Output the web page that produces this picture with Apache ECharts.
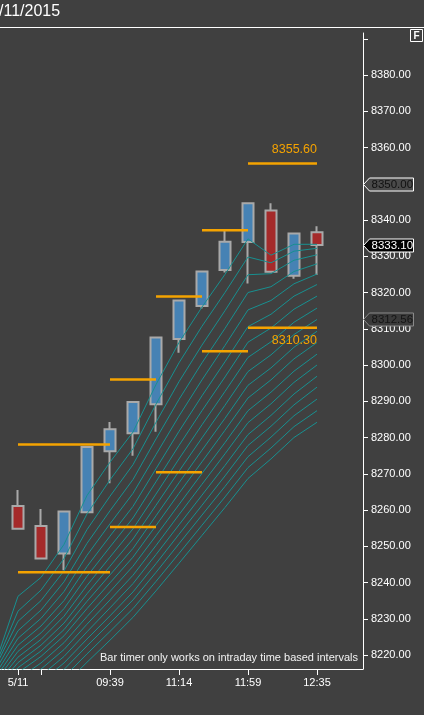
<!DOCTYPE html>
<html>
<head>
<meta charset="utf-8">
<script src="https://cdn.jsdelivr.net/npm/echarts@6/dist/echarts.min.js"></script>
<style>
html,body{margin:0;padding:0;background:#404040;overflow:hidden;}
#chart{width:424px;height:715px;}
</style>
</head>
<body>
<div id="chart"></div>
<script>
// ---- data ----
const barIndex = [0,1,2,3,4,5,6,7,8,9,10,11,12,13];
const opens  = [8261.1,8255.6,8248.0,8259.4,8276.2,8281.2,8289.2,8307.2,8316.3,8326.2,8333.9,8342.6,8324.6,8336.6];
const closes = [8254.8,8246.6,8259.6,8277.4,8282.3,8289.8,8307.6,8317.8,8325.8,8334.0,8344.6,8325.7,8336.3,8333.1];
const lows   = [8254.8,8246.6,8243.4,8259.4,8267.4,8275.0,8281.6,8303.4,8315.6,8325.5,8322.5,8325.7,8323.8,8324.8];
const highs  = [8265.5,8260.3,8259.6,8277.4,8284.3,8289.8,8307.6,8317.8,8325.8,8337.2,8344.6,8344.6,8336.3,8338.3];

const ribbonIndex = [-1,0,1,2,3,4,5,6,7,8,9,10,11,12,13];
const ma3  = [8217.5,8236.2,8241.4,8250.5,8264.0,8273.2,8281.5,8294.6,8306.2,8316.0,8325.0,8334.8,8330.3,8333.3,8333.3];
const ma4  = [8217.0,8232.1,8237.9,8246.6,8258.9,8268.3,8276.9,8289.2,8300.6,8310.7,8320.0,8329.8,8328.2,8331.4,8332.2];
const ma5  = [8216.5,8229.3,8235.0,8243.2,8254.6,8263.8,8272.5,8284.2,8295.4,8305.5,8315.0,8324.9,8325.2,8328.9,8330.4];
const ma6  = [8215.5,8226.7,8232.4,8240.2,8250.8,8259.8,8268.4,8279.6,8290.5,8300.6,8310.1,8320.0,8321.6,8325.8,8327.9];
const ma7  = [8214.5,8224.6,8230.1,8237.5,8247.5,8256.2,8264.6,8275.3,8285.9,8295.9,8305.4,8315.2,8317.8,8322.4,8325.1];
const ma8  = [8213.5,8222.7,8228.0,8235.0,8244.4,8252.8,8261.0,8271.4,8281.7,8291.5,8300.9,8310.6,8314.0,8319.0,8322.2];
const ma9  = [8212.5,8221.0,8226.1,8232.8,8241.7,8249.8,8257.8,8267.8,8277.8,8287.4,8296.7,8306.3,8310.2,8315.4,8319.0];
const ma10 = [8211.5,8219.4,8224.3,8230.7,8239.2,8247.0,8254.8,8264.4,8274.1,8283.5,8292.7,8302.1,8306.4,8311.8,8315.7];
const ma11 = [8210.5,8217.9,8222.7,8228.8,8236.9,8244.5,8252.0,8261.3,8270.7,8279.9,8288.9,8298.2,8302.8,8308.4,8312.56];
const ma12 = [8209.5,8216.5,8221.1,8227.0,8234.8,8242.1,8249.4,8258.4,8267.5,8276.5,8285.3,8294.4,8299.2,8304.9,8309.3];
const ma13 = [8208.5,8215.1,8219.6,8225.3,8232.8,8239.9,8247.0,8255.7,8264.6,8273.3,8282.0,8290.9,8295.9,8301.7,8306.2];
const ma14 = [8207.0,8213.4,8217.8,8223.4,8230.6,8237.5,8244.5,8252.9,8261.5,8270.1,8278.6,8287.4,8292.5,8298.3,8303.0];
const ma15 = [8205.5,8211.7,8216.1,8221.5,8228.5,8235.2,8242.0,8250.2,8258.7,8267.1,8275.5,8284.1,8289.3,8295.2,8300.0];
const ma16 = [8204.0,8210.0,8214.3,8219.6,8226.4,8233.0,8239.7,8247.7,8255.9,8264.1,8272.3,8280.8,8286.1,8292.0,8296.9];
const ma17 = [8202.5,8208.3,8212.6,8217.8,8224.4,8230.8,8237.4,8245.2,8253.3,8261.3,8269.4,8277.8,8283.1,8289.0,8293.9];
const ma18 = [8201.0,8206.7,8210.9,8216.0,8222.5,8228.8,8235.2,8242.8,8250.7,8258.6,8266.5,8274.7,8280.1,8286.0,8290.6];
const ma19 = [8199.0,8204.6,8208.8,8213.9,8220.3,8226.5,8232.8,8240.3,8248.0,8255.8,8263.6,8271.7,8277.1,8283.0,8287.4];
const ma20 = [8197.0,8202.5,8206.7,8211.7,8218.0,8224.1,8230.4,8237.7,8245.3,8253.0,8260.7,8268.7,8274.1,8280.0,8284.2];

const levelFrom  = [0, 4, 6, 8, 10];
const levelTo    = [4, 6, 8, 10, 13];
const levelUpper = [8278.1, 8296.0, 8318.9, 8337.2, 8355.6];
const levelLower = [8242.8, 8255.3, 8270.4, 8303.8, 8310.3];

const xTickIndex  = [0, 1, 4, 7, 10, 13];
const xLabelIndex = [0, 4, 7, 10, 13];
const xLabelText  = ['5/11', '09:39', '11:14', '11:59', '12:35'];
const yTickValues  = [8220,8230,8240,8250,8260,8270,8280,8290,8300,8310,8320,8330,8340,8350,8360,8370,8380,8390];
const yLabelValues = [8220,8230,8240,8250,8260,8270,8280,8290,8300,8310,8320,8330,8340,8350,8360,8370,8380];

const tagValues = [8349.9, 8333.10, 8312.56];
const tagTexts  = ['8350.00', '8333.10', '8312.56'];

const titleText = '/11/2015';
const noteText = 'Bar timer only works on intraday time based intervals';

// ---- chart ----
const FONT = '"Liberation Sans", Arial, sans-serif';
const ORANGE = '#f5a300';
const ribbons = [ma3,ma4,ma5,ma6,ma7,ma8,ma9,ma10,ma11,ma12,ma13,ma14,ma15,ma16,ma17,ma18,ma19,ma20];

const series = [];
series.push({
  type: 'candlestick',
  data: barIndex.map((x, i) => [x, opens[i], closes[i], lows[i], highs[i]]),
  encode: { x: 0, y: [1, 2, 3, 4] },
  barWidth: 11,
  itemStyle: {
    color: '#4682b4', color0: '#a52a2a',
    borderColor: '#a9a9a9', borderColor0: '#a9a9a9', borderWidth: 2
  },
  z: 2
});
ribbons.forEach(arr => {
  series.push({
    type: 'line',
    data: ribbonIndex.map((x, i) => [x, arr[i]]),
    symbol: 'none',
    lineStyle: { color: '#189090', width: 1 },
    z: 3
  });
});
levelFrom.forEach((f, i) => {
  series.push({
    type: 'line', symbol: 'none', z: 4,
    lineStyle: { color: ORANGE, width: 2.5 },
    data: [[f, levelUpper[i]], [levelTo[i], levelUpper[i]]]
  });
  series.push({
    type: 'line', symbol: 'none', z: 4,
    lineStyle: { color: ORANGE, width: 2.5 },
    data: [[f, levelLower[i]], [levelTo[i], levelLower[i]]]
  });
});

const option = {
  backgroundColor: '#404040',
  animation: false,
  textStyle: { fontFamily: FONT },
  grid: { left: 0, right: 61, top: 33, bottom: 46, containLabel: false },
  xAxis: {
    type: 'value', min: -0.7826, max: 15,
    axisLine: { show: true, onZero: false, lineStyle: { color: '#ffffff', width: 1 } },
    axisTick: { show: true, length: 6, customValues: xTickIndex, lineStyle: { color: '#ffffff' } },
    axisLabel: { show: true, customValues: xLabelIndex, color: '#ffffff', fontSize: 11, margin: 8,
                 fontFamily: FONT, formatter: v => xLabelText[xLabelIndex.indexOf(v)] },
    splitLine: { show: false }
  },
  yAxis: {
    type: 'value', position: 'right', min: 8216.14, max: 8391.59,
    axisLine: { show: true, onZero: false, lineStyle: { color: '#ffffff', width: 1 } },
    axisTick: { show: true, length: 5, customValues: yTickValues, lineStyle: { color: '#ffffff' } },
    axisLabel: { show: true, customValues: yLabelValues, color: '#ffffff', fontSize: 11, margin: 8,
                 fontFamily: FONT, formatter: v => v.toFixed(2) },
    splitLine: { show: false }
  },
  series: series
};

const chart = echarts.init(document.getElementById('chart'), null, { renderer: 'canvas' });
chart.setOption(option);

const axisX = chart.convertToPixel({ xAxisIndex: 0 }, 15);
const tagStyles = [
  { fill: '#4a4a4a', stroke: '#ffffff', text: '#111111' },
  { fill: '#000000', stroke: '#ffffff', text: '#ffffff' },
  { fill: '#3a3a3a', stroke: '#8a8a8a', text: '#151515' }
];
const graphics = [];
graphics.push({ type: 'text', id: 'title', left: -1, top: 4,
  style: { text: titleText, fill: '#ffffff', font: '16px ' + FONT } });
graphics.push({ type: 'line', id: 'topline', shape: { x1: 0, y1: 27.5, x2: 424, y2: 27.5 },
  style: { stroke: '#ffffff', lineWidth: 1 } });
graphics.push({ type: 'rect', id: 'fbox', shape: { x: 410.5, y: 29.5, width: 12, height: 12 },
  style: { fill: 'none', stroke: '#ffffff', lineWidth: 1 } });
graphics.push({ type: 'text', id: 'ftext', x: 416.5, y: 36,
  style: { text: 'F', fill: '#ffffff', font: 'bold 10px ' + FONT, align: 'center', verticalAlign: 'middle' } });
graphics.push({ type: 'text', id: 'note', x: 358, y: 658,
  style: { text: noteText, fill: '#f2f2f2', font: '11px ' + FONT, align: 'right', verticalAlign: 'middle' } });

// level value labels at the end of the last pair of levels
const lastI = levelFrom.length - 1;
const upPt = chart.convertToPixel({ gridIndex: 0 }, [levelTo[lastI], levelUpper[lastI]]);
const loPt = chart.convertToPixel({ gridIndex: 0 }, [levelTo[lastI], levelLower[lastI]]);
graphics.push({ type: 'text', id: 'lvlU', z: 50, x: upPt[0], y: upPt[1] - 14,
  style: { text: levelUpper[lastI].toFixed(2), fill: ORANGE, font: '12.5px ' + FONT, align: 'right', verticalAlign: 'middle' } });
graphics.push({ type: 'text', id: 'lvlL', z: 50, x: loPt[0], y: loPt[1] + 13,
  style: { text: levelLower[lastI].toFixed(2), fill: ORANGE, font: '12.5px ' + FONT, align: 'right', verticalAlign: 'middle' } });

tagValues.forEach((v, i) => {
  const y = Math.round(chart.convertToPixel({ yAxisIndex: 0 }, v)) + 0.5;
  const x0 = axisX + 0.5;
  const s = tagStyles[i];
  graphics.push({ type: 'polygon', id: 'tagp' + i, z: 100,
    shape: { points: [[x0, y], [x0 + 6, y - 6.5], [x0 + 50, y - 6.5], [x0 + 50, y + 6.5], [x0 + 6, y + 6.5]] },
    style: { fill: s.fill, stroke: s.stroke, lineWidth: 1 } });
  graphics.push({ type: 'text', id: 'tagt' + i, z: 101, x: x0 + 8, y: y,
    style: { text: tagTexts[i], fill: s.text, font: '11.5px ' + FONT, align: 'left', verticalAlign: 'middle' } });
});
chart.setOption({ graphic: graphics });
</script>
</body>
</html>
